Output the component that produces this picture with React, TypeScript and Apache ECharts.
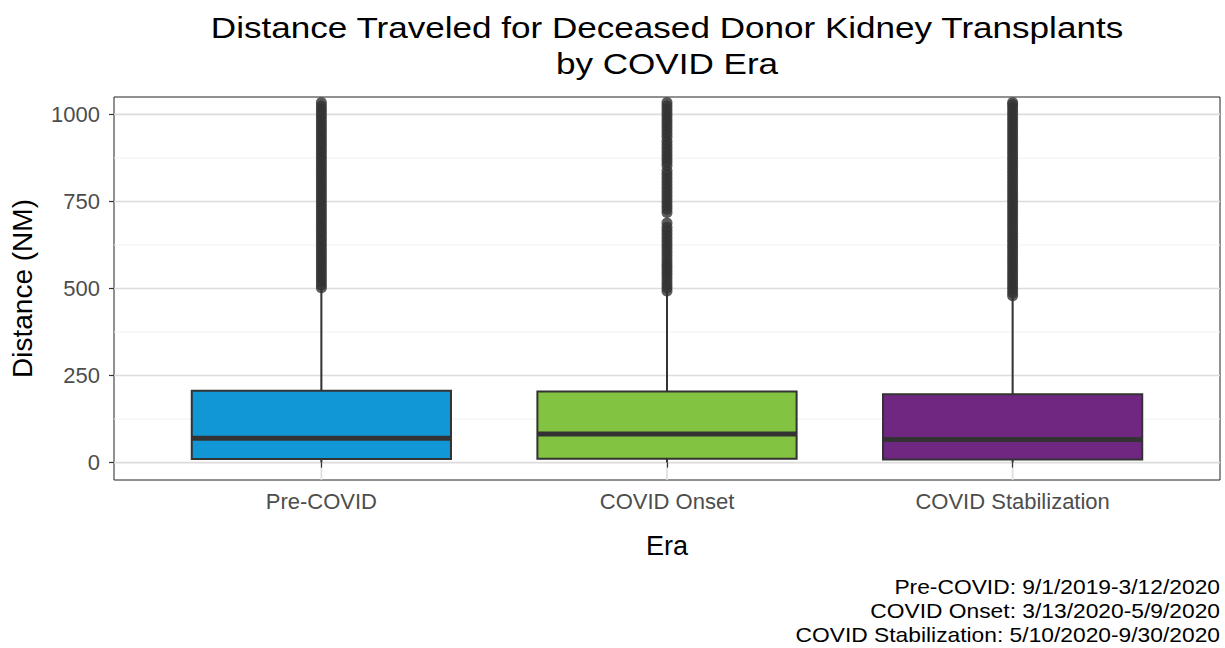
import React, { useEffect, useRef } from "react";
import * as echarts from "echarts";

const categories = ["Pre-COVID", "COVID Onset", "COVID Stabilization"];
const colors = ["#1197D6", "#82C341", "#6F2782"];
const whiskerLow = [0, 0, 0];
const q1 = [10, 11, 9];
const median = [70, 82, 66];
const q3 = [206, 204, 196];
const whiskerHigh = [498, 490, 474];

const outliersPre = [
  502, 511, 520, 529, 538, 547, 556, 565, 574, 583, 592, 601, 610, 619, 628, 637, 646, 655,
  664, 673, 682, 691, 700, 709, 718, 727, 736, 745, 754, 763, 772, 781, 790, 799, 808, 817,
  826, 835, 844, 853, 862, 871, 880, 889, 898, 907, 916, 925, 934, 943, 952, 961, 970, 979,
  988, 997, 1006, 1015, 1024, 1034,
];
const outliersOnset = [
  493, 502, 511, 520, 530, 540, 549, 558, 567, 576, 586, 596, 606, 616, 626, 636, 646, 656,
  666, 676, 688, 718, 728, 738, 748, 758, 768, 778, 788, 798, 808, 818, 828, 838, 853, 863,
  873, 883, 893, 903, 913, 923, 935, 945, 955, 965, 975, 985, 995, 1005, 1015, 1025, 1034,
];
const outliersStab = [
  479, 488, 497, 506, 515, 524, 533, 542, 551, 560, 569, 578, 587, 596, 605, 614, 623, 632,
  641, 650, 659, 668, 677, 686, 695, 704, 713, 722, 731, 740, 749, 758, 767, 776, 785, 794,
  803, 812, 821, 830, 839, 848, 857, 866, 875, 884, 893, 902, 911, 920, 929, 938, 947, 956,
  965, 974, 983, 992, 1001, 1010, 1019, 1028, 1034,
];
const outliers = [outliersPre, outliersOnset, outliersStab];

const yTicks = [0, 250, 500, 750, 1000];
const yMinor = [125, 375, 625, 875];
const xTicks = [1, 2, 3];
const titleLines = ["Distance Traveled for Deceased Donor Kidney Transplants", "by COVID Era"];
const captionLines = [
  "Pre-COVID: 9/1/2019-3/12/2020",
  "COVID Onset: 3/13/2020-5/9/2020",
  "COVID Stabilization: 5/10/2020-9/30/2020",
];

const FONT = '"Liberation Sans", Arial, Helvetica, sans-serif';

export default function App() {
  const ref = useRef<HTMLDivElement>(null);
  useEffect(() => {
    if (!ref.current) return;
    const chart = echarts.init(ref.current, null, { renderer: "svg" });

    const hLine = (color: string, width: number) => (params: any, api: any) => {
      const cs = params.coordSys;
      const p = api.coord([1, api.value(1)]);
      return {
        type: "line",
        shape: { x1: cs.x, y1: p[1], x2: cs.x + cs.width, y2: p[1] },
        style: { stroke: color, lineWidth: width },
        silent: true,
      };
    };
    const vLine = (color: string, width: number) => (params: any, api: any) => {
      const cs = params.coordSys;
      const p = api.coord([api.value(0), 0]);
      return {
        type: "line",
        shape: { x1: p[0], y1: cs.y, x2: p[0], y2: cs.y + cs.height },
        style: { stroke: color, lineWidth: width },
        silent: true,
      };
    };

    const boxData = categories.map((_, i) => [
      i + 1,
      whiskerLow[i],
      q1[i],
      median[i],
      q3[i],
      whiskerHigh[i],
    ]);

    const option: any = {
      animation: false,
      backgroundColor: "#ffffff",
      textStyle: { fontFamily: FONT },
      grid: {
        left: 113,
        right: 5,
        top: 97,
        bottom: 168,
        show: true,
        borderColor: "#222222",
        borderWidth: 1,
        backgroundColor: "transparent",
      },
      xAxis: {
        type: "value",
        min: 0.4,
        max: 3.6,
        axisLine: { show: false },
        splitLine: { show: false },
        axisTick: {
          show: true,
          customValues: xTicks,
          length: 5,
          lineStyle: { color: "#333333", width: 1.2 },
        },
        axisLabel: {
          customValues: xTicks,
          formatter: (v: number) => categories[Math.round(v) - 1] ?? "",
          color: "#4D4D4D",
          fontSize: 22,
          fontFamily: FONT,
          margin: 10,
        },
        name: "Era",
        nameLocation: "middle",
        nameGap: 52,
        nameTextStyle: { fontSize: 27, color: "#000000", fontFamily: FONT },
      },
      yAxis: {
        type: "value",
        min: -50,
        max: 1050,
        axisLine: { show: false },
        splitLine: { show: false },
        axisTick: {
          show: true,
          customValues: yTicks,
          length: 5,
          lineStyle: { color: "#333333", width: 1.2 },
        },
        axisLabel: {
          customValues: yTicks,
          formatter: (v: number) => String(v),
          color: "#4D4D4D",
          fontSize: 22,
          fontFamily: FONT,
          margin: 14,
        },
        name: "Distance (NM)",
        nameLocation: "middle",
        nameGap: 78,
        nameRotate: 90,
        nameTextStyle: { fontSize: 28, color: "#000000", fontFamily: FONT },
      },
      graphic: [
        ...titleLines.map((t, i) => ({
          type: "text",
          x: 667,
          y: 27 + i * 36,
          scaleX: 1.17,
          style: {
            text: t,
            font: `30px ${FONT}`,
            fill: "#000000",
            textAlign: "center",
            textVerticalAlign: "middle",
          },
        })),
        ...captionLines.map((t, i) => ({
          type: "text",
          x: 1220,
          y: 587 + i * 24,
          scaleX: 1.14,
          style: {
            text: t,
            font: `20px ${FONT}`,
            fill: "#000000",
            textAlign: "right",
            textVerticalAlign: "middle",
          },
        })),
      ],
      series: [
        {
          type: "custom",
          name: "minor",
          data: yMinor.map((v) => [1, v]),
          renderItem: hLine("#F1F1F1", 1),
          z: 0,
          silent: true,
        },
        {
          type: "custom",
          name: "major",
          data: yTicks.map((v) => [1, v]),
          renderItem: hLine("#DCDCDC", 1.6),
          z: 0,
          silent: true,
        },
        {
          type: "custom",
          name: "majorX",
          data: xTicks.map((v) => [v, 0]),
          renderItem: vLine("#DCDCDC", 1.6),
          z: 0,
          silent: true,
        },
        ...outliers.map((arr, i) => ({
          type: "scatter",
          name: categories[i] + " outliers",
          data: arr.map((v) => [i + 1, v]),
          symbol: "circle",
          symbolSize: 11,
          itemStyle: { color: "#333333" },
          z: 3,
          silent: true,
        })),
        {
          type: "custom",
          name: "boxes",
          data: boxData,
          z: 4,
          renderItem: (params: any, api: any) => {
            const x = api.value(0);
            const lo = api.coord([x, api.value(1)]);
            const b1 = api.coord([x, api.value(2)]);
            const md = api.coord([x, api.value(3)]);
            const b3 = api.coord([x, api.value(4)]);
            const hi = api.coord([x, api.value(5)]);
            const w = api.size([0.75, 0])[0];
            const idx = params.dataIndex;
            return {
              type: "group",
              children: [
                {
                  type: "line",
                  shape: { x1: lo[0], y1: lo[1], x2: b1[0], y2: b1[1] },
                  style: { stroke: "#333333", lineWidth: 2 },
                },
                {
                  type: "line",
                  shape: { x1: b3[0], y1: b3[1], x2: hi[0], y2: hi[1] },
                  style: { stroke: "#333333", lineWidth: 2 },
                },
                {
                  type: "rect",
                  shape: { x: b1[0] - w / 2, y: b3[1], width: w, height: b1[1] - b3[1] },
                  style: { fill: colors[idx], stroke: "#333333", lineWidth: 2 },
                },
                {
                  type: "line",
                  shape: { x1: md[0] - w / 2, y1: md[1], x2: md[0] + w / 2, y2: md[1] },
                  style: { stroke: "#333333", lineWidth: 5 },
                },
              ],
            };
          },
        },
      ],
    };
    chart.setOption(option);
    return () => chart.dispose();
  }, []);
  return (
    <div
      ref={ref}
      style={{ position: "fixed", left: 0, top: 0, width: 1225, height: 648, background: "#fff" }}
    />
  );
}
